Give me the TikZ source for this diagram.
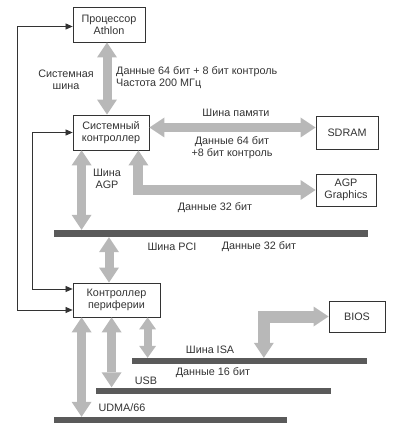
\documentclass[tikz,border=0pt]{standalone}
\usepackage{fontspec}
\setmainfont{Liberation Sans}
\usetikzlibrary{arrows.meta,calc}
\definecolor{fatc}{HTML}{B8B8B8}
\definecolor{barc}{HTML}{5A5A5A}
\definecolor{ink}{HTML}{333333}
\newcommand{\txt}{\fontsize{10.8}{11.8}\selectfont}
\begin{document}
\begin{tikzpicture}[x=1pt,y=-1pt,
  box/.style={draw=ink, line width=0.8pt, fill=white, inner sep=0pt, align=center, font=\txt, text=ink},
  lbl/.style={font=\txt, text=ink, align=center, inner sep=0pt},
  bar/.style={fill=barc, inner sep=0pt, minimum height=6pt},
  fat/.style={draw=fatc, line width=9pt, line join=miter, {Triangle[width=20pt,length=15pt,line width=0pt]}-{Triangle[width=20pt,length=15pt,line width=0pt]}},
  fatsmall/.style={draw=fatc, line width=8pt, {Triangle[width=17pt,length=12pt,line width=0pt]}-{Triangle[width=17pt,length=12pt,line width=0pt]}},
  link/.style={draw=ink, line width=0.7pt, {Triangle[length=7pt,width=6pt]}-{Triangle[length=7pt,width=6pt]}}
]
\useasboundingbox (0,0) rectangle (400,427);

% boxes
\node[box, minimum width=72pt, minimum height=35pt] (proc) at (109,24.5) {Процессор\\Athlon};
\node[box, minimum width=76pt, minimum height=35pt] (ctrl) at (111,132.5) {Системный\\контроллер};
\node[box, minimum width=62pt, minimum height=33pt] (sdram) at (347,132.5) {SDRAM};
\node[box, minimum width=60pt, minimum height=32pt] (agp) at (346,190) {AGP\\Graphics};
\node[box, minimum width=87pt, minimum height=34pt] (per) at (116.5,300) {Контроллер\\периферии};
\node[box, minimum width=56pt, minimum height=31pt] (bios) at (357,316.5) {BIOS};

% buses
\node[bar, minimum width=314pt, minimum height=7pt] (pci) at (211,233.5) {};
\node[bar, minimum width=235pt] (isa) at (249.5,361) {};
\node[bar, minimum width=235pt] (usb) at (213.5,390.5) {};
\node[bar, minimum width=233pt] (udma) at (170.5,420) {};

% fat arrows
\coordinate (a1) at ([xshift=-2pt]proc.south);
\draw[fat] (a1) -- (a1 |- ctrl.north);
\coordinate (m1) at ([yshift=5pt]ctrl.east);
\draw[fat] (m1) -- (m1 -| sdram.west);
\coordinate (g1) at ([xshift=-11pt]ctrl.south east);
\draw[fat, line width=10pt] (g1) |- (agp.west);
\coordinate (p1) at ([xshift=9pt]ctrl.south west);
\draw[fat] (p1) -- (p1 |- pci.north);
\coordinate (p2) at ([xshift=-7.5pt]per.north);
\draw[fat] (p2 |- pci.south) -- (p2);
\coordinate (u1) at ([xshift=9pt]per.south west);
\draw[fat] (u1) -- (u1 |- udma.north);
\coordinate (u2) at ([xshift=39pt]per.south west);
\draw[fat] (u2) -- (u2 |- usb.north);
\coordinate (u3) at ([xshift=75pt]per.south west);
\draw[fatsmall] (u3) -- (u3 |- isa.north);
\coordinate (b1) at ([xshift=132pt]isa.north west);
\draw[fat, line width=12pt] (bios.west) -| (b1);

% control links
\draw[link] ([yshift=-2pt]proc.west) -- ++(-55,0) |- ([yshift=-10pt]per.west);
\draw[link] (ctrl.west) -- ++(-40,0) |- ([yshift=11pt]per.west);

% labels
\node[lbl] (l1) at (66,80) {Системная\\шина};
\node[lbl, align=left, anchor=west] (l2) at (116,77.5) {Данные 64 бит + 8 бит контроль\\Частота 200 МГц};
\node[lbl] (l3) at (236,113) {Шина памяти};
\node[lbl] (l4) at (232,147.5) {Данные 64 бит\\+8 бит контроль};
\node[lbl] (l5) at (107,179) {Шина\\AGP};
\node[lbl] (l6) at (215,208) {Данные 32 бит};
\node[lbl] (l7) at (172,247) {Шина PCI};
\node[lbl] (l8) at (259,247) {Данные 32 бит};
\node[lbl] (l9) at (210,350) {Шина ISA};
\node[lbl] (l10) at (213,373) {Данные 16 бит};
\node[lbl] (l11) at (146,381) {USB};
\node[lbl] (l12) at (122,408) {UDMA/66};
\end{tikzpicture}
\end{document}
